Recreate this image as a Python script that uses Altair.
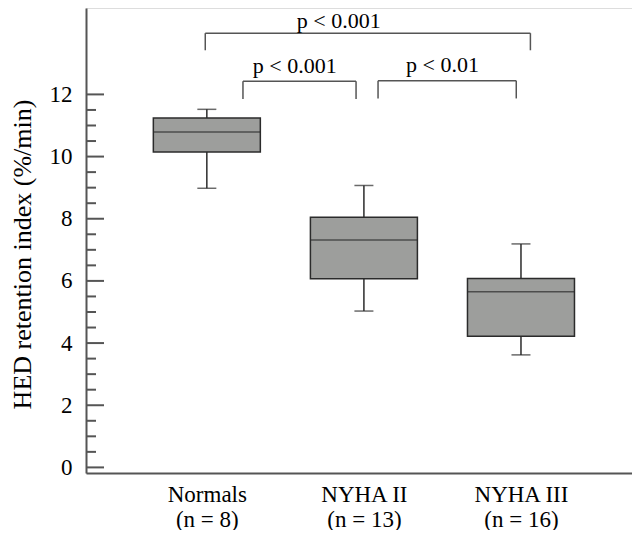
import altair as alt
import pandas as pd

# ---- data ----
groups = ["Normals", "NYHA II", "NYHA III"]
n_counts = [8, 13, 16]
lower_whisker = [8.98, 5.03, 3.62]
q1 = [10.15, 6.07, 4.22]
median = [10.79, 7.32, 5.65]
q3 = [11.24, 8.05, 6.08]
upper_whisker = [11.52, 9.07, 7.19]

major_ticks = [0, 2, 4, 6, 8, 10, 12]
minor_ticks = [0.5, 1, 1.5, 2.5, 3, 3.5, 4.5, 5, 5.5, 6.5, 7, 7.5,
               8.5, 9, 9.5, 10.5, 11, 11.5]

# significance brackets (x in group-position units, y in data units)
bracket_labels = ["p < 0.001", "p < 0.001", "p < 0.01"]
bracket_x1 = [0.99, 1.23, 2.09]
bracket_x2 = [3.06, 1.95, 2.97]
bracket_level = [13.97, 12.42, 12.44]
bracket_drop = [13.42, 11.85, 11.87]
label_x = [1.84, 1.56, 2.50]
label_y = [14.14, 12.70, 12.72]

FONT = "Liberation Serif"
BOX_FILL = "#9d9e9c"
INK = "#2b2b2b"
AXIS = "#555555"

pos = [i + 1 for i in range(len(groups))]
box_df = pd.DataFrame({
    "group": groups, "pos": pos, "lo": lower_whisker, "q1": q1,
    "med": median, "q3": q3, "hi": upper_whisker,
})
br_df = pd.DataFrame({
    "label": bracket_labels, "x1": bracket_x1, "x2": bracket_x2,
    "lev": bracket_level, "drop": bracket_drop, "tx": label_x, "ty": label_y,
})
major_df = pd.DataFrame({"v": major_ticks})
minor_df = pd.DataFrame({"v": minor_ticks})

label_expr = ""
for p, g, n in zip(pos, groups, n_counts):
    label_expr += f"datum.value == {p} ? ['{g}', '(n = {n})'] : "
label_expr += "''"

xscale = alt.Scale(domain=[0.2625, 3.675], nice=False, zero=False)
yscale = alt.Scale(domain=[-0.18, 14.78], nice=False, zero=False)

x_axis = alt.Axis(values=pos, labelExpr=label_expr, ticks=False, grid=False,
                  title=None, labelFont=FONT, labelFontSize=23,
                  labelLineHeight=25, labelPadding=10, labelColor="black",
                  labelFlush=False, labelOverlap=False,
                  domainColor=AXIS, domainWidth=2)
y_axis = alt.Axis(values=major_ticks, ticks=False, grid=False,
                  title="HED retention index (%/min)", titleFont=FONT,
                  titleFontSize=26, titleFontWeight="normal", titleColor="black",
                  titleAngle=270, titleX=-64, titleY=246, titleAlign="center",
                  titleBaseline="middle",
                  labelFont=FONT, labelFontSize=23, labelPadding=14,
                  labelColor="black", labelFlush=False,
                  domainColor=AXIS, domainWidth=2)

base = alt.Chart(box_df)

whisk = base.mark_rule(color=INK, strokeWidth=1.5).encode(
    x=alt.X("pos:Q", scale=xscale, axis=x_axis),
    y=alt.Y("lo:Q", scale=yscale, axis=y_axis),
    y2="hi:Q",
)
box = base.mark_bar(size=107, fill=BOX_FILL, stroke=INK, strokeWidth=1.5).encode(
    x="pos:Q", y="q1:Q", y2="q3:Q",
)
med = base.mark_tick(orient="horizontal", size=107, thickness=1.5, color=INK).encode(
    x="pos:Q", y="med:Q",
)
cap_lo = base.mark_tick(orient="horizontal", size=19, thickness=1.5, color=INK).encode(
    x="pos:Q", y="lo:Q",
)
cap_hi = base.mark_tick(orient="horizontal", size=19, thickness=1.5, color=INK).encode(
    x="pos:Q", y="hi:Q",
)

maj = alt.Chart(major_df).mark_rule(color=AXIS, strokeWidth=2).encode(
    y="v:Q", x=alt.value(0), x2=alt.value(18),
)
mnr = alt.Chart(minor_df).mark_rule(color=AXIS, strokeWidth=2).encode(
    y="v:Q", x=alt.value(0), x2=alt.value(10),
)

brb = alt.Chart(br_df)
br_h = brb.mark_rule(color=AXIS, strokeWidth=1.5).encode(x="x1:Q", x2="x2:Q", y="lev:Q")
br_l = brb.mark_rule(color=AXIS, strokeWidth=1.5).encode(x="x1:Q", y="lev:Q", y2="drop:Q")
br_r = brb.mark_rule(color=AXIS, strokeWidth=1.5).encode(x="x2:Q", y="lev:Q", y2="drop:Q")
br_t = brb.mark_text(font=FONT, fontSize=22, color="black", align="center",
                     baseline="alphabetic").encode(x="tx:Q", y="ty:Q", text="label:N")

chart = alt.layer(
    whisk, box, med, cap_lo, cap_hi, maj, mnr, br_h, br_l, br_r, br_t
).properties(
    width=546, height=465,
    autosize=alt.AutoSizeParams(type="none"),
    padding={"left": 78, "top": 0, "right": 0, "bottom": 57},
).configure_view(stroke=None).configure(background="white")

chart.save("out.html", embed_options={"renderer": "svg", "actions": False})
